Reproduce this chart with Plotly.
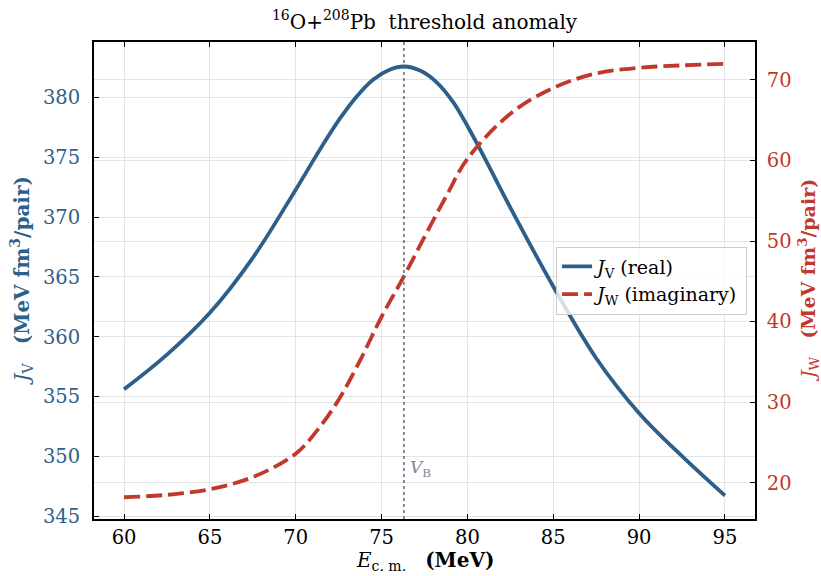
import plotly.graph_objects as go

# ---- data ----
E_V = [60, 62.5, 65, 67.5, 70, 71.6, 72.6, 73.55, 74.5, 75.5, 76.3, 77.24, 78.21, 79.18, 80.05, 80.93,
       82.5, 85, 87.5, 90, 92.5, 95]
J_V = [355.6, 358.5, 362.0, 366.6, 372.3, 376.1, 378.3, 380.1, 381.5, 382.35, 382.6, 382.26, 381.28,
       379.6, 377.5, 375.15, 370.8, 364.2, 358.2, 353.6, 350.0, 346.7]

E_W = [60, 62.5, 65, 67.5, 70, 71.25, 72.5, 73.75, 75, 76.3, 77.5, 78.75, 80, 82.5, 85, 87.5, 90, 92.5, 95]
J_W = [18.2, 18.5, 19.2, 20.7, 23.6, 26.5, 30.3, 35.2, 40.6, 45.6, 50.5, 55.5, 60.2, 65.8, 69.0, 70.8,
       71.5, 71.8, 72.0]

V_B = 76.3

x_ticks = [60, 65, 70, 75, 80, 85, 90, 95]
yl_ticks = [345, 350, 355, 360, 365, 370, 375, 380]
yr_ticks = [20, 30, 40, 50, 60, 70]

BLUE = "#2d5f8b"
RED = "#c0392b"
FONT = "DejaVu Serif"

fig = go.Figure()
fig.add_trace(go.Scatter(x=E_V, y=J_V, mode="lines", line=dict(color=BLUE, width=3.8, shape="spline", smoothing=1.0),
                         name="<i>J</i><sub>V</sub> (real)", yaxis="y"))
fig.add_trace(go.Scatter(x=E_W, y=J_W, mode="lines",
                         line=dict(color=RED, width=3.8, shape="spline", dash="16px,6px"),
                         name="<i>J</i><sub>W</sub> (imaginary)", yaxis="y2"))

fig.add_shape(type="line", x0=V_B, x1=V_B, y0=0, y1=1, xref="x", yref="paper",
              line=dict(color="#5a6a7e", width=1.5, dash="dot"))
fig.add_annotation(x=V_B, y=349.0, xref="x", yref="y", text="<i>V</i><sub>B</sub>",
                   showarrow=False, xanchor="left", yanchor="middle", xshift=4,
                   font=dict(family=FONT, size=17, color="#7a8799"))

axis_common = dict(showline=True, linecolor="black", linewidth=1.8, ticks="inside", ticklen=5,
                   tickcolor="black", tickwidth=1.2, showgrid=True, gridcolor="#e3e3e3", gridwidth=1,
                   zeroline=False, automargin=False)

fig.update_layout(
    width=821, height=576,
    margin=dict(l=94, r=66, t=42, b=57),
    paper_bgcolor="white", plot_bgcolor="white",
    font=dict(family=FONT, size=19, color="black"),
    title=dict(text="<sup>16</sup>O+<sup>208</sup>Pb  threshold anomaly", x=0.5, xref="paper",
               xanchor="center", y=0.962, yanchor="middle", font=dict(family=FONT, size=20, color="black")),
    xaxis=dict(range=[58.25, 96.75], tickvals=x_ticks, mirror="ticks", ticklabelstandoff=0,
               tickfont=dict(family=FONT, size=19.5, color="black"), **axis_common),
    yaxis=dict(range=[344.75, 384.65], tickvals=yl_ticks, ticklabelstandoff=8,
               tickfont=dict(family=FONT, size=19.5, color=BLUE), **axis_common),
    yaxis2=dict(range=[15.5, 74.7], tickvals=yr_ticks, overlaying="y", side="right", ticklabelstandoff=6,
                tickfont=dict(family=FONT, size=19.5, color=RED), **axis_common),
    legend=dict(x=0.988, y=0.5, xanchor="right", yanchor="middle",
                bgcolor="rgba(255,255,255,0.8)", bordercolor="#cccccc", borderwidth=1,
                font=dict(family=FONT, size=19, color="black")),
    showlegend=True,
)

fig.add_annotation(x=-0.109, y=0.5, xref="paper", yref="paper", textangle=-90, showarrow=False,
                   xanchor="center", yanchor="middle",
                   text="<i>J</i><sub>V</sub>   <b>(MeV fm<sup>3</sup>/pair)</b>",
                   font=dict(family=FONT, size=20, color=BLUE))
fig.add_annotation(x=1.081, y=0.5, xref="paper", yref="paper", textangle=-90, showarrow=False,
                   xanchor="center", yanchor="middle",
                   text="<i>J</i><sub>W</sub>   <b>(MeV fm<sup>3</sup>/pair)</b>",
                   font=dict(family=FONT, size=19, color=RED))
fig.add_annotation(x=0.5, y=-0.088, xref="paper", yref="paper", showarrow=False,
                   xanchor="center", yanchor="middle",
                   text="<i>E</i><sub>c. m.</sub>   <b>(MeV)</b>",
                   font=dict(family=FONT, size=20, color="black"))

fig.write_html("out.html", config={"displayModeBar": False},
               post_script="document.body.style.margin='0';document.body.style.overflow='hidden';")
